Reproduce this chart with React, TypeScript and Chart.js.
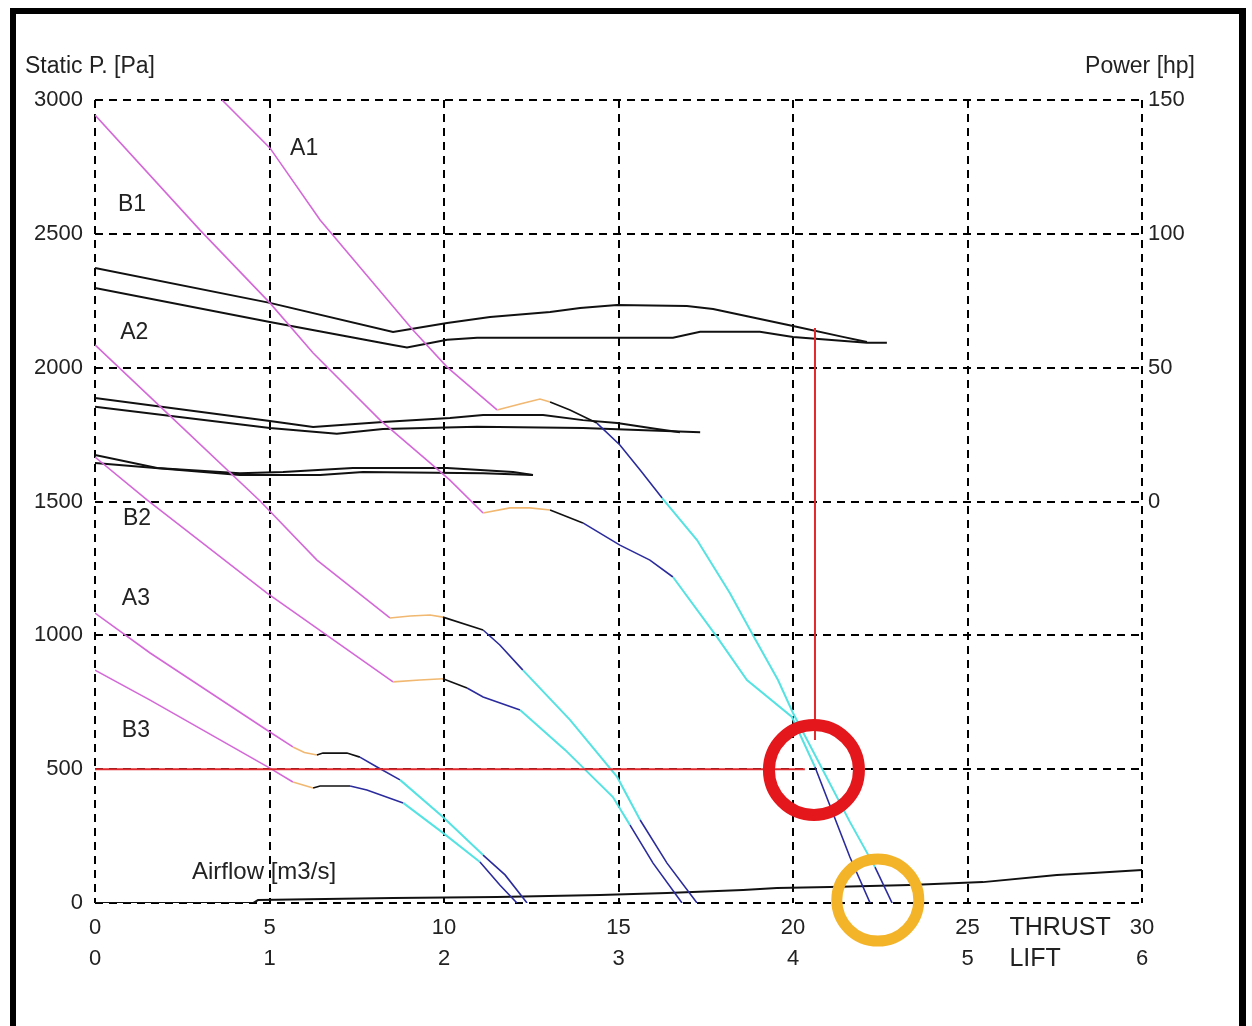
import React, { useEffect, useRef } from 'react';
import { Chart, registerables } from 'chart.js';

Chart.register(...registerables);

type P = [number, number];

// ---- axes ----
const THRUST_MIN = 0, THRUST_MAX = 30, THRUST_STEP = 5;
const LIFT_MIN = 0, LIFT_MAX = 6, LIFT_STEP = 1;
const PRESSURE_MIN = 0, PRESSURE_MAX = 3000, PRESSURE_STEP = 500;
const POWER_MIN = -150, POWER_MAX = 150, POWER_STEP = 50;

// ---- fan curves (static pressure [Pa] vs thrust) ----
const A1: P[] = [[3.64,3000],[5.01,2821],[6.45,2552],[9.11,2141],[10.09,2002],[11.52,1842],[12.18,1864],[12.75,1883],[13.04,1872],[13.61,1842],[14.38,1793],[15.04,1711],[15.62,1618],[16.25,1513],[17.25,1356],[18.19,1158],[18.85,1001],[19.57,833],[20.0,710],[20.63,553],[21.63,303],[22.35,134],[22.84,0]];
const A1_BREAKS = [5, 8, 10, 13, 21];
const B1: P[] = [[0,2944],[3.01,2514],[5.01,2242],[6.25,2055],[8.17,1804],[9.6,1644],[10.17,1580],[11.12,1457],[11.89,1476],[12.46,1476],[13.04,1468],[13.98,1420],[15.04,1337],[15.9,1281],[16.56,1218],[17.82,994],[18.68,833],[19.97,695],[20.63,508],[21.63,172],[22.21,0]];
const B1_BREAKS = [7, 10, 11, 14, 18];
const A2: P[] = [[0,2085],[2.06,1831],[4.73,1502],[6.36,1281],[8.45,1065],[9.03,1072],[9.6,1076],[9.97,1068],[11.12,1020],[11.6,964],[12.26,870],[13.61,684],[14.96,471],[15.62,310],[16.39,149],[17.25,0]];
const A2_BREAKS = [4, 7, 8, 10, 13];
const B2: P[] = [[0,1666],[1.49,1506],[4.93,1158],[8.54,826],[9.31,833],[9.97,838],[10.66,803],[11.12,770],[12.18,721],[13.47,572],[14.84,396],[15.33,291],[15.99,149],[16.82,0]];
const B2_BREAKS = [3, 5, 6, 8, 11];
const A3: P[] = [[0,1083],[1.58,934],[5.01,639],[5.67,583],[6.0,562],[6.36,553],[6.53,560],[7.22,560],[7.59,545],[8.08,508],[8.74,460],[9.97,321],[11.12,179],[11.75,105],[12.38,0]];
const A3_BREAKS = [3, 5, 8, 10, 12];
const B3: P[] = [[0,870],[1.58,758],[5.01,504],[5.67,452],[6.25,430],[6.45,437],[7.31,437],[7.79,422],[8.83,374],[9.97,262],[11.03,153],[11.6,67],[12.09,0]];
const B3_BREAKS = [3, 4, 6, 8, 10];

// ---- power curves [hp] ----
const POWER1_UPPER: P[] = [[0,87.2],[5.01,74.2],[8.54,63.3],[10.09,66.7],[11.32,68.9],[13.04,70.8],[13.9,72.3],[14.96,73.4],[16.96,73.0],[17.71,71.9],[20.0,65.6],[21.43,61.5],[22.12,59.6]];
const POWER1_LOWER: P[] = [[0,79.8],[5.01,67.1],[8.54,58.5],[8.94,57.5],[10.09,60.4],[10.95,61.2],[16.56,61.2],[17.34,63.4],[19.05,63.4],[20.0,61.5],[22.12,59.3],[22.69,59.3]];
const POWER2_UPPER: P[] = [[0,38.7],[5.01,30.1],[6.25,27.8],[8.25,29.7],[10.17,31.2],[11.12,32.3],[12.84,32.3],[13.98,30.4],[14.96,29.3],[16.1,27.1],[16.76,25.9]];
const POWER2_LOWER: P[] = [[0,35.4],[5.01,27.5],[6.93,25.3],[8.25,27.1],[10.95,27.9],[13.98,27.5],[17.34,25.9]];
const POWER3_UPPER: P[] = [[0,17.4],[1.78,12.5],[4.15,10.6],[5.39,11.0],[7.39,12.5],[10.09,12.5],[11.98,11.0],[12.55,9.9]];
const POWER3_LOWER: P[] = [[0,14.4],[4.15,9.9],[6.45,9.9],[7.68,11.0],[11.12,10.6],[12.55,9.9]];

// ---- airflow line ----
const AIRFLOW: P[] = [[0,0],[4.53,0],[4.67,11],[8.54,19],[11.52,22],[14.47,30],[16.39,37],[18.57,49],[19.54,56],[21.06,60],[23.35,67],[25.44,78],[27.56,105],[28.6,112],[30,123]];

// ---- operating point ----
const OPERATING_H: P[] = [[0,500],[20.34,500]];
const OPERATING_V: P[] = [[20.63,609],[20.63,2148]];
const RED_MARK: P[] = [[20.6,497]];
const ORANGE_MARK: P[] = [[22.43,11]];

// ---- text labels [text, thrust, pressure] ----
const CURVE_LABELS: [string, number, number][] = [
  ['A1', 5.59, 2817], ['B1', 0.66, 2608], ['A2', 0.72, 2130], ['B2', 0.8, 1435],
  ['A3', 0.77, 1136], ['B3', 0.77, 643],
];
const AIRFLOW_LABEL: [string, number, number] = ['Airflow [m3/s]', 2.78, 116];

const MAGENTA = '#d468d8';
const ORANGE = '#f1b871';
const BLACK = '#111111';
const NAVY = '#2b2b9e';
const CYAN = '#55e2e2';
const SEG_COLORS = [MAGENTA, ORANGE, BLACK, NAVY, CYAN, NAVY];
const FONT = '"Liberation Sans", Arial, sans-serif';
const TEXT = '#222222';

const toXY = (a: P[]) => a.map(([x, y]) => ({ x, y }));

function fanDataset(points: P[], breaks: number[]) {
  const pick = (i: number) => {
    let k = 0;
    while (k < breaks.length && i >= breaks[k]) k++;
    return k;
  };
  return {
    data: toXY(points),
    yAxisID: 'y',
    borderColor: MAGENTA,
    borderWidth: 1.6,
    pointRadius: 0,
    order: 5,
    segment: {
      borderColor: (ctx: any) => SEG_COLORS[pick(ctx.p0DataIndex)],
      borderWidth: (ctx: any) => (pick(ctx.p0DataIndex) === 4 ? 2 : 1.6),
    },
  };
}

function plainLine(points: P[], color: string, width: number, axis: string, order: number) {
  return { data: toXY(points), yAxisID: axis, borderColor: color, borderWidth: width, pointRadius: 0, order };
}

const textPlugin = {
  id: 'textPlugin',
  afterDraw(chart: any) {
    const { ctx, scales } = chart;
    const x = scales.x, y = scales.y;
    ctx.save();
    ctx.fillStyle = TEXT;
    ctx.textBaseline = 'middle';
    ctx.textAlign = 'left';
    ctx.font = `23px ${FONT}`;
    for (const [t, vx, vy] of CURVE_LABELS) {
      ctx.fillText(t, x.getPixelForValue(vx), y.getPixelForValue(vy));
    }
    ctx.font = `24px ${FONT}`;
    ctx.fillText(AIRFLOW_LABEL[0], x.getPixelForValue(AIRFLOW_LABEL[1]), y.getPixelForValue(AIRFLOW_LABEL[2]));
    ctx.font = `23px ${FONT}`;
    ctx.fillText('Static P. [Pa]', 25, 67);
    ctx.textAlign = 'right';
    ctx.fillText('Power [hp]', 1195, 67);
    ctx.textAlign = 'left';
    ctx.font = `25px ${FONT}`;
    ctx.fillText('THRUST', x.getPixelForValue(26.2), x.top + 25);
    ctx.fillText('LIFT', x.getPixelForValue(26.2), x.top + 56);
    ctx.restore();
  },
};

export default function App() {
  const ref = useRef<HTMLCanvasElement | null>(null);

  useEffect(() => {
    if (!ref.current) return;
    const tickFont = { family: FONT, size: 22 };
    const dash = [8, 6];
    const chart = new Chart(ref.current, {
      type: 'line',
      data: {
        datasets: [
          { data: toXY(RED_MARK), yAxisID: 'y', showLine: false, pointRadius: 45, pointHoverRadius: 45, pointBorderWidth: 12, pointBorderColor: '#e3171c', pointBackgroundColor: 'rgba(0,0,0,0)', clip: false, order: 0 } as any,
          { data: toXY(ORANGE_MARK), yAxisID: 'y', showLine: false, pointRadius: 41, pointHoverRadius: 41, pointBorderWidth: 11, pointBorderColor: '#f4b42a', pointBackgroundColor: 'rgba(0,0,0,0)', clip: false, order: 0 } as any,
          plainLine(OPERATING_H, '#e02a2e', 2, 'y', 2),
          plainLine(OPERATING_V, '#e02a2e', 2, 'y', 2),
          fanDataset(A1, A1_BREAKS),
          fanDataset(B1, B1_BREAKS),
          fanDataset(A2, A2_BREAKS),
          fanDataset(B2, B2_BREAKS),
          fanDataset(A3, A3_BREAKS),
          fanDataset(B3, B3_BREAKS),
          plainLine(POWER1_UPPER, BLACK, 2, 'y2', 6),
          plainLine(POWER1_LOWER, BLACK, 2, 'y2', 6),
          plainLine(POWER2_UPPER, BLACK, 2, 'y2', 6),
          plainLine(POWER2_LOWER, BLACK, 2, 'y2', 6),
          plainLine(POWER3_UPPER, BLACK, 2, 'y2', 6),
          plainLine(POWER3_LOWER, BLACK, 2, 'y2', 6),
          plainLine(AIRFLOW, BLACK, 2, 'y', 6),
        ] as any,
      },
      options: {
        responsive: false,
        animation: false,
        devicePixelRatio: 1,
        events: [],
        layout: { padding: { top: 100, left: 0, right: 0, bottom: 0 } },
        plugins: { legend: { display: false }, tooltip: { enabled: false }, title: { display: false } },
        scales: {
          x: {
            type: 'linear', position: 'bottom', min: THRUST_MIN, max: THRUST_MAX, weight: 0,
            ticks: { stepSize: THRUST_STEP, autoSkip: false, maxRotation: 0, font: tickFont, color: TEXT, padding: 12, callback: (v: any) => String(v) },
            grid: { color: '#000', lineWidth: 2, drawTicks: false },
            border: { display: false, dash },
            afterFit: (s: any) => { s.height = 36; },
          },
          x2: {
            type: 'linear', position: 'bottom', min: LIFT_MIN, max: LIFT_MAX, weight: 1,
            ticks: { stepSize: LIFT_STEP, autoSkip: false, maxRotation: 0, font: tickFont, color: TEXT, padding: 7, callback: (v: any) => String(v) },
            grid: { display: false, drawTicks: false },
            border: { display: false },
            afterFit: (s: any) => { s.height = 87; },
          },
          y: {
            type: 'linear', position: 'left', min: PRESSURE_MIN, max: PRESSURE_MAX,
            ticks: { stepSize: PRESSURE_STEP, font: tickFont, color: TEXT, padding: 12, callback: (v: any) => String(v) },
            grid: { color: '#000', lineWidth: 2, drawTicks: false },
            border: { display: false, dash },
            afterFit: (s: any) => { s.width = 95; },
          },
          y2: {
            type: 'linear', position: 'right', min: POWER_MIN, max: POWER_MAX,
            ticks: { stepSize: POWER_STEP, font: tickFont, color: TEXT, padding: 6, callback: (v: any) => (v >= 0 ? String(v) : '') },
            grid: { display: false, drawTicks: false },
            border: { display: false },
            afterFit: (s: any) => { s.width = 110; },
          },
        },
      } as any,
      plugins: [textPlugin],
    });
    return () => chart.destroy();
  }, []);

  return (
    <div style={{ position: 'absolute', left: 0, top: 0, width: 1252, height: 1026, background: '#fff', overflow: 'hidden' }}>
      <canvas ref={ref} width={1252} height={1026} style={{ position: 'absolute', left: 0, top: 0 }} />
      <div style={{ position: 'absolute', left: 10, top: 8, width: 1236, height: 1100, boxSizing: 'border-box', borderLeft: '6px solid #000', borderTop: '6px solid #000', borderRight: '7px solid #000', pointerEvents: 'none' }} />
    </div>
  );
}
